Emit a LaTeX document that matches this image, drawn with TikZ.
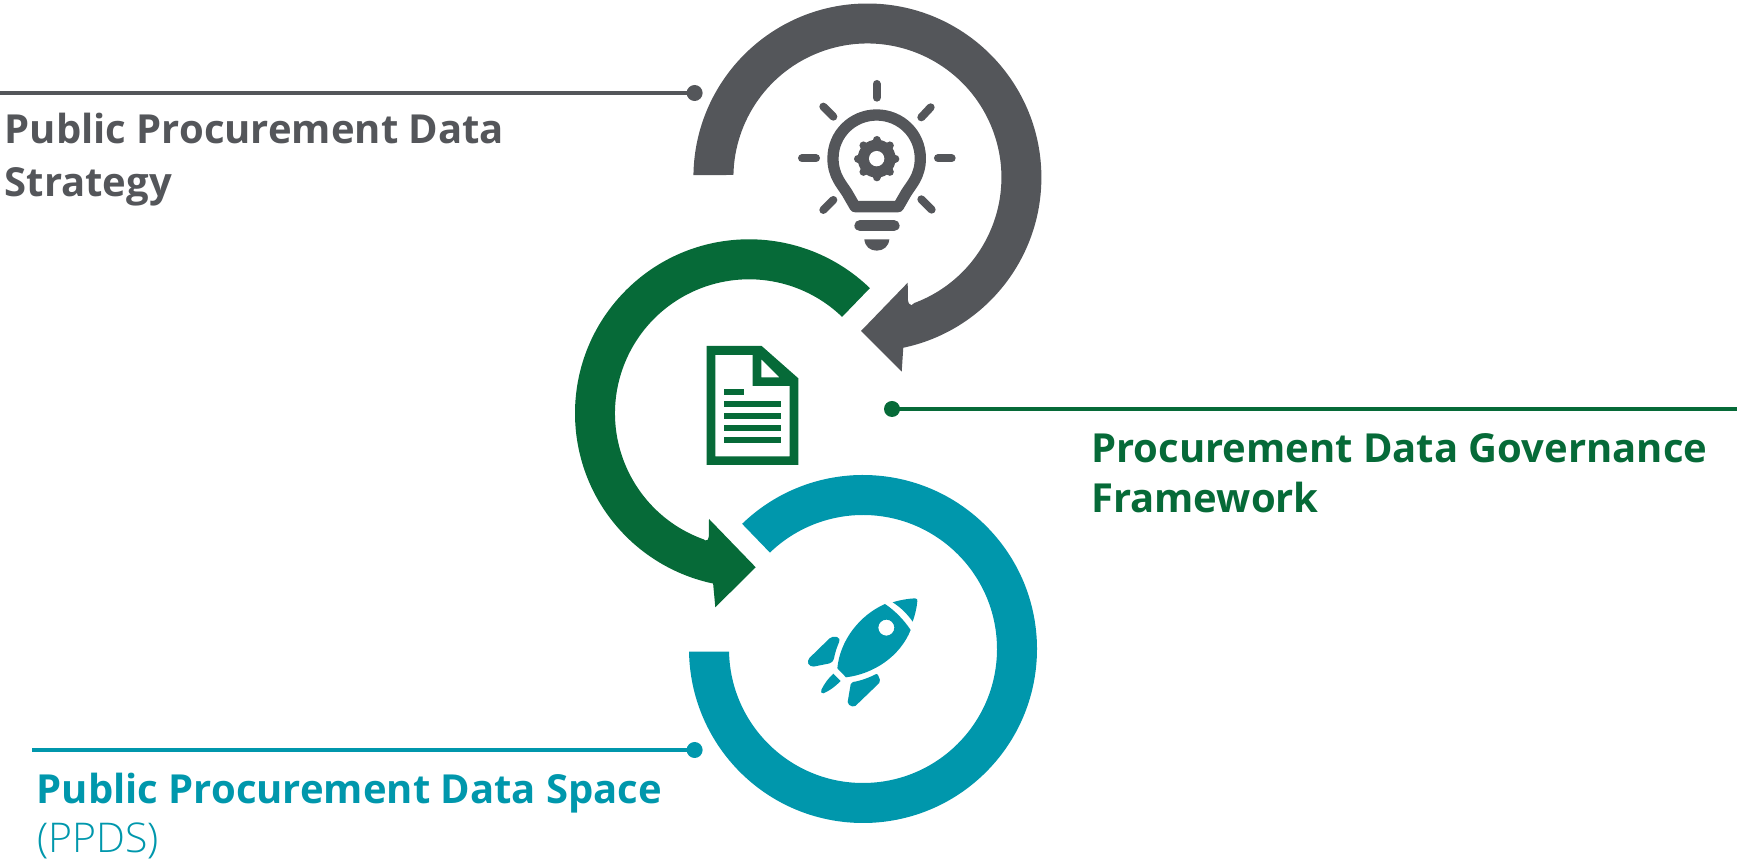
\documentclass[tikz,border=0pt]{standalone}
\usepackage{fontspec}
\usetikzlibrary{calc}
\setmainfont{Open Sans}
\newfontfamily\lightfont[UprightFont={* Light}]{Open Sans}
\definecolor{cgray}{HTML}{54565A}
\definecolor{cgreen}{HTML}{066A38}
\definecolor{cteal}{HTML}{0097AC}
\tikzset{
  dotnode/.style={circle,fill,inner sep=0pt,minimum size=16pt},
  leader/.style={line width=3.8pt},
  title/.style={anchor=base west,inner sep=0pt,font=\fontsize{40}{46}\selectfont\bfseries},
  sub/.style={anchor=base west,inner sep=0pt,font=\fontsize{41}{46}\selectfont\lightfont},
  icon/.style={x=0.3333pt,y=-0.3333pt}
}
\begin{document}
\begin{tikzpicture}[x=1pt,y=1pt]
\useasboundingbox (0,0) rectangle (1737,861);
\coordinate (cg) at (867.4,683.5);
\coordinate (cn) at (749,447.7);
\coordinate (ct) at (863,212);
% gray ring
\fill[cgray] ($(cg)+(179.2:174)$) arc[start angle=179.2,end angle=-78.1,radius=174]
  -- (901.7,489.3) -- (861,530) -- (907.7,578.3)
  -- (907.9,561) .. controls (908,558) and (909,556.6) .. (911.5,555.8)
  -- ($(cg)+(-69.5:134)$) arc[start angle=-69.5,end angle=178.93,radius=134] -- cycle;
% green ring
\fill[cgreen] ($(cn)+(46:174)$) arc[start angle=46,end angle=258.1,radius=174]
  -- (715.3,253.7) -- (755.7,293.7) -- (709,342)
  -- (708.8,324.5) .. controls (708.7,321.5) and (707.5,320) .. (705,320.5)
  -- ($(cn)+(250.4:134)$) arc[start angle=250.4,end angle=46,radius=134] -- cycle;
% teal ring
\fill[cteal] ($(ct)+(134:174)$) arc[start angle=134,end angle=-179.1,radius=174]
  -- ($(ct)+(-178.85:134)$) arc[start angle=-178.85,end angle=134,radius=134] -- cycle;
% leaders
\node[dotnode,fill=cgray] (d1) at (694.6,768) {};
\coordinate (l1) at (0,768);
\draw[leader,cgray] (l1) -- (d1.center);
\node[dotnode,fill=cgreen] (d2) at (892,452) {};
\coordinate (l2) at (1737,452);
\draw[leader,cgreen] (d2.center) -- (l2);
\node[dotnode,fill=cteal] (d3) at (694.6,111) {};
\coordinate (l3) at (32,111);
\draw[leader,cteal] (l3) -- (d3.center);
% texts
\node[title,text=cgray] (t1a) at (4.5,717) {Public Procurement Data};
\node[title,text=cgray] (t1b) at (4.5,664) {Strategy};
\node[title,text=cgreen] (t2a) at (1091,398) {Procurement Data Governance};
\node[title,text=cgreen] (t2b) at (1091,348) {Framework};
\node[title,text=cteal] (t3a) at (36.5,57.5) {Public Procurement Data Space};
\node[sub,text=cteal] (t3b) at (37,8) {(PPDS)};
% bulb
\begin{scope}[shift={(760,801)},icon,cgray]
  \draw[line width=11.3pt,line join=round] (415,440) -- (285,440) -- (262,400)
    .. controls (248,376) and (219,350) .. (219,295)
    .. controls (219,222) and (278,165) .. (350,165)
    .. controls (422,165) and (481,222) .. (481,295)
    .. controls (481,350) and (452,376) .. (438,400) -- cycle;
  \foreach \a/\b/\c/\d in {350/72/350/113,126/295/168/295,534/295/575/295,190/140/220/170,512/142/484/172,190/450/220/420,484/418/515/449}
    \draw[line width=8pt,line cap=round] (\a,\b) -- (\c,\d);
  \draw[line width=11.3pt,line cap=round] (300,497) -- (402,497);
  \fill (313,538) -- (388,538) .. controls (386,560) and (370,572) .. (350,572) .. controls (330,572) and (315,560) .. (313,538) -- cycle;
  \fill (350,296) circle[radius=57];
  \foreach \t in {0,45,...,315}
    \draw[line width=8pt,line cap=round] (350,296) ++(\t:46) -- ++(\t:10);
  \fill[white] (350,296) circle[radius=23];
\end{scope}
% document
\begin{scope}[shift={(680,531)},icon,cgreen]
  \fill[even odd rule] (80,48) -- (245,48) -- (355,145) -- (355,405) -- (80,405) -- cycle
    (106,75) -- (218,75) -- (218,168) -- (329,168) -- (329,379) -- (106,379) -- cycle
    (244,88) -- (244,142) -- (298,142) -- cycle;
  \fill (132,177) rectangle (192,195);
  \foreach \y in {213,249,285,321}
    \fill (132,\y) rectangle (303,\y+18);
\end{scope}
% rocket
\begin{scope}[shift={(790,281)},icon,cteal]
  \fill[even odd rule] (285,72) .. controls (315,92) and (342,120) .. (362,150)
    .. controls (330,230) and (250,282) .. (168,292) -- (142,265)
    .. controls (150,180) and (210,105) .. (285,72) -- cycle
    (289,143) circle[radius=24];
  \fill (308,67) .. controls (330,60) and (355,56) .. (375,55)
    .. controls (381,55) and (383,59) .. (382,64)
    .. controls (380,85) and (375,105) .. (368,125)
    .. controls (352,102) and (332,82) .. (308,67) -- cycle;
  \fill[rounded corners=4pt] (127,167) -- (153,175) .. controls (142,197) and (134,222) .. (130,248) -- (60,262) -- (50,242) -- cycle;
  \fill[rounded corners=2pt] (183,307) .. controls (210,303) and (238,293) .. (262,280) -- (272,305) -- (192,382) -- (172,372) -- cycle;
  \fill (130,281) -- (152,303) .. controls (135,320) and (118,333) .. (100,340) .. controls (93,341) and (92,335) .. (94,330) .. controls (102,312) and (115,295) .. (130,281) -- cycle;
\end{scope}
\end{tikzpicture}
\end{document}
